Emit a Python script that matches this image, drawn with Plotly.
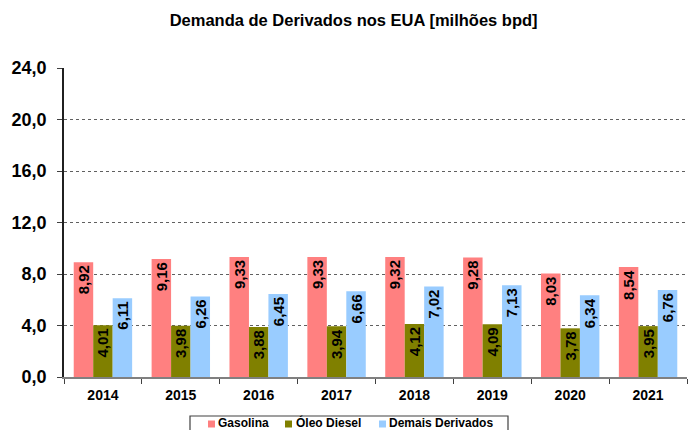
import plotly.graph_objects as go

# Demanda anual de derivados nos EUA (milhões de barris por dia)
anos = ["2014", "2015", "2016", "2017", "2018", "2019", "2020", "2021"]
gasolina = [8.92, 9.16, 9.33, 9.33, 9.32, 9.28, 8.03, 8.54]
oleo_diesel = [4.01, 3.98, 3.88, 3.94, 4.12, 4.09, 3.78, 3.95]
demais = [6.11, 6.26, 6.45, 6.66, 7.02, 7.13, 6.34, 6.76]
y_ticks = [0, 4, 8, 12, 16, 20, 24]

FONT = "Liberation Sans, Arial, sans-serif"
W, H = 692, 430
ML, MR, MT, MB = 64, 5, 68, 53
PW, PH = W - ML - MR, H - MT - MB

series = [
    ("Gasolina", gasolina, "#FF8080"),
    ("Óleo Diesel", oleo_diesel, "#808000"),
    ("Demais Derivados", demais, "#99CCFF"),
]


def fx(p):
    """Pixel column -> paper x."""
    return (p - ML) / PW


def fy(p):
    """Pixel row -> paper y."""
    return (H - MB - p) / PH


fig = go.Figure()
for nome, valores, cor in series:
    fig.add_trace(go.Bar(
        name=nome,
        x=anos,
        y=valores,
        showlegend=False,
        marker=dict(color=cor, line=dict(width=0)),
        texttemplate="%{y:.2f}",
        textposition="inside",
        insidetextanchor="end",
        textangle=-90,
        textfont=dict(family=FONT, size=15, color="black", weight="bold"),
        constraintext="none",
    ))

# Boxed legend below the axis
shapes = [dict(
    type="rect", xref="paper", yref="paper",
    x0=fx(190), x1=fx(508), y0=fy(436), y1=fy(416),
    line=dict(color="#404040", width=1.2), fillcolor="white", layer="above",
)]
annotations = []
legend_items = [(208, 217), (285, 295), (379, 388)]
for (sq_x, tx_x), (nome, _, cor) in zip(legend_items, series):
    shapes.append(dict(
        type="rect", xref="paper", yref="paper",
        x0=fx(sq_x), x1=fx(sq_x + 7), y0=fy(427.5), y1=fy(420.5),
        line=dict(width=0), fillcolor=cor, layer="above",
    ))
    annotations.append(dict(
        text=f"<b>{nome}</b>", xref="paper", yref="paper",
        x=fx(tx_x), y=fy(422.8), xanchor="left", yanchor="middle",
        borderpad=0,
        showarrow=False, font=dict(family=FONT, size=12, color="black"),
    ))

fig.update_layout(
    width=W,
    height=H,
    margin=dict(l=ML, r=MR, t=MT, b=MB, autoexpand=False),
    paper_bgcolor="white",
    plot_bgcolor="white",
    separators=",.",
    barmode="group",
    bargap=0.25,
    bargroupgap=0,
    showlegend=False,
    font=dict(family=FONT, color="black"),
    shapes=shapes,
    annotations=annotations,
    title=dict(
        text="<b>Demanda de Derivados nos EUA [milhões bpd]</b>",
        x=0.511, xanchor="center",
        y=0.953, yanchor="middle",
        font=dict(family=FONT, size=16.5, color="black"),
    ),
    xaxis=dict(
        showline=True,
        linecolor="#808080",
        linewidth=2,
        ticks="outside",
        tickson="boundaries",
        ticklen=5,
        tickcolor="#404040",
        ticklabelstandoff=4,
        tickfont=dict(family=FONT, size=14, color="black", weight="bold"),
        showgrid=False,
    ),
    yaxis=dict(
        range=[0, 24],
        tickvals=y_ticks,
        tickformat=".1f",
        showline=True,
        linecolor="#202020",
        linewidth=1.5,
        ticks="outside",
        ticklen=5,
        tickcolor="#404040",
        ticklabelstandoff=7,
        tickfont=dict(family=FONT, size=18, color="black", weight="bold"),
        showgrid=True,
        gridcolor="#606060",
        griddash="dot",
        gridwidth=1,
        zeroline=False,
    ),
)

fig.write_html("out.html")
